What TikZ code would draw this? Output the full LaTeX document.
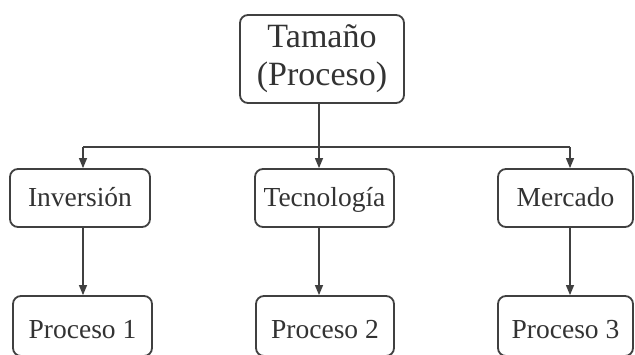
\documentclass[tikz,border=0pt]{standalone}
\usepackage{fontspec}
\setmainfont{Liberation Serif}
\usetikzlibrary{arrows.meta}
\definecolor{ln}{HTML}{404040}
\definecolor{tx}{HTML}{333333}
\begin{document}
\begin{tikzpicture}[x=1pt,y=-1pt,
  box/.style={draw=ln,line width=1.8pt,rounded corners=8pt,fill=white,text=tx,inner sep=0pt,align=center},
  small/.style={box,font=\fontsize{27.5}{30}\selectfont,minimum height=58pt,text height=20pt,text depth=4pt},
  lower/.style={small,minimum height=60pt,text height=24pt,text depth=0pt},
  conn/.style={draw=ln,line width=1.2pt},
  arr/.style={conn,-{Triangle[length=10pt,width=8pt]}}]
\useasboundingbox (0,0) rectangle (635,354);
\node[box,font=\fontsize{34}{38}\selectfont,minimum width=164pt,minimum height=88pt] (top) at (322,59) {Tamaño\\(Proceso)};
\node[small,minimum width=140pt] (inv) at (80,198) {Inversión};
\node[small,minimum width=139pt] (tec) at (324.5,198) {Tecnología};
\node[small,minimum width=135pt] (mer) at (565.5,198) {Mercado};
\node[lower,minimum width=139pt] (p1) at (82.5,326) {Proceso 1};
\node[lower,minimum width=138pt] (p2) at (325,326) {Proceso 2};
\node[lower,minimum width=135pt] (p3) at (565.5,326) {Proceso 3};
\coordinate (hl) at (83,147);
\coordinate (hm) at (319,147);
\coordinate (hr) at (570,147);
\draw[conn] (hm |- top.south) -- (hm);
\draw[conn] (hl) -- (hr);
\draw[arr] (hl) -- (hl |- inv.north);
\draw[arr] (hm) -- (hm |- tec.north);
\draw[arr] (hr) -- (hr |- mer.north);
\draw[arr] (hl |- inv.south) -- (hl |- p1.north);
\draw[arr] (hm |- tec.south) -- (hm |- p2.north);
\draw[arr] (hr |- mer.south) -- (hr |- p3.north);
\end{tikzpicture}
\end{document}
